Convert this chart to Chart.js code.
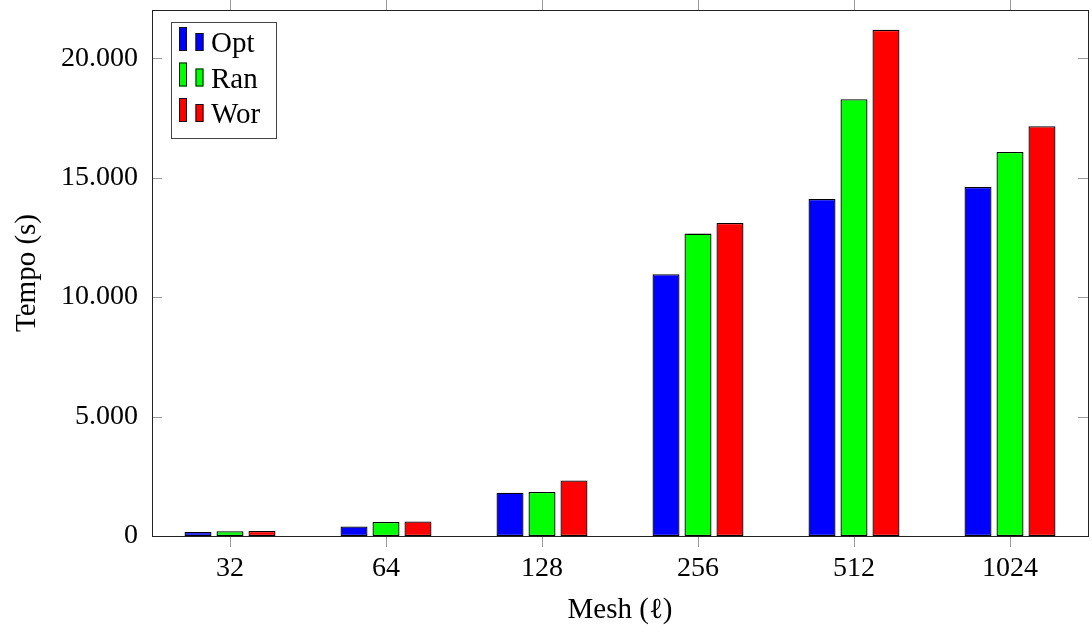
<!DOCTYPE html>
<html><head><meta charset="utf-8">
<script src="https://cdn.jsdelivr.net/npm/chart.js@4.4.1/dist/chart.umd.min.js"></script>
<style>html,body{margin:0;padding:0;background:#fff}#wrap{width:1092px;height:632px}</style>
</head><body><div id="wrap"><canvas id="c" width="1092" height="632"></canvas></div>
<script>
const categories = ['32', '64', '128', '256', '512', '1024'];
const optValues = [170, 400, 1810, 10955, 14110, 14612];
const ranValues = [200, 590, 1840, 12660, 18285, 16078];
const worValues = [210, 610, 2325, 13105, 21190, 17155];
const seriesNames = ['Opt', 'Ran', 'Wor'];
const seriesColors = ['#0000ff', '#00ff00', '#ff0000'];
const yTickValues = [0, 5000, 10000, 15000, 20000];
const yTitle = 'Tempo (s)';
const xTitle = 'Mesh (ℓ)';

const FONT = '"Liberation Serif", "DejaVu Serif", serif';
function fmt(v) { return String(v).replace(/\B(?=(\d{3})+(?!\d))/g, '.'); }

const framePlugin = {
  id: 'frame',
  afterDatasetsDraw(chart) {
    const { ctx, chartArea: a, scales: { x, y } } = chart;
    ctx.save();
    ctx.lineWidth = 1;
    ctx.strokeStyle = '#9a9a9a';
    ctx.beginPath();
    y.ticks.forEach(t => {
      const py = Math.round(y.getPixelForValue(t.value)) + 0.5;
      ctx.moveTo(a.left, py); ctx.lineTo(a.left + 10, py);
      ctx.moveTo(a.right, py); ctx.lineTo(a.right - 10, py);
    });
    categories.forEach((c, i) => {
      const px = Math.round(x.getPixelForValue(i)) + 0.5;
      ctx.moveTo(px, a.bottom); ctx.lineTo(px, a.bottom + 11);
      ctx.moveTo(px, a.top); ctx.lineTo(px, a.top - 11);
    });
    ctx.stroke();
    ctx.strokeStyle = '#222';
    ctx.strokeRect(Math.round(a.left) + 0.5, Math.round(a.top) + 0.5,
      Math.round(a.right - a.left), Math.round(a.bottom - a.top));
    ctx.restore();
  }
};

const legendPlugin = {
  id: 'texLegend',
  afterDraw(chart) {
    const { ctx, chartArea: a } = chart;
    const bx = a.left + 19, by = a.top + 12, bw = 105, bh = 116;
    ctx.save();
    ctx.fillStyle = '#fff';
    ctx.fillRect(bx, by, bw, bh);
    ctx.lineWidth = 1;
    ctx.strokeStyle = '#444';
    ctx.strokeRect(Math.round(bx) + 0.5, Math.round(by) + 0.5, bw, bh);
    chart.data.datasets.forEach((ds, i) => {
      const bottom = by + 29 + i * 35.5;
      ctx.fillStyle = ds.backgroundColor;
      ctx.strokeStyle = '#111';
      ctx.fillRect(bx + 8, bottom - 24, 8, 24);
      ctx.strokeRect(bx + 8.5, bottom - 23.5, 7, 23);
      ctx.fillRect(bx + 24.5, bottom - 18, 8, 18);
      ctx.strokeRect(bx + 25, bottom - 17.5, 7, 17);
      ctx.fillStyle = '#000';
      ctx.font = '29px ' + FONT;
      ctx.textBaseline = 'alphabetic';
      ctx.textAlign = 'left';
      ctx.fillText(ds.label, bx + 40, bottom + 1);
    });
    ctx.restore();
  }
};

const datasets = [optValues, ranValues, worValues].map((vals, i) => ({
  label: seriesNames[i],
  data: vals,
  backgroundColor: seriesColors[i],
  borderColor: '#000',
  borderWidth: 1.3,
  borderSkipped: false,
  categoryPercentage: 0.615,
  barPercentage: 0.844
}));

new Chart(document.getElementById('c'), {
  type: 'bar',
  data: { labels: categories, datasets },
  options: {
    responsive: false,
    animation: false,
    events: [],
    layout: { padding: { left: 0, right: 4, top: 10, bottom: 0 } },
    plugins: { legend: { display: false }, tooltip: { enabled: false } },
    scales: {
      x: {
        type: 'category',
        offset: true,
        grid: { display: false, drawTicks: false },
        border: { display: false },
        ticks: { font: { family: FONT, size: 28 }, color: '#000', padding: 16, maxRotation: 0 },
        title: { display: true, text: xTitle, color: '#000', font: { family: FONT, size: 29 }, padding: { top: 0, bottom: 4 } },
        afterFit(s) { s.height = 96; s.paddingLeft = 0; s.paddingRight = 0; }
      },
      y: {
        min: 0,
        max: 22020,
        grid: { display: false, drawTicks: false },
        border: { display: false },
        ticks: { font: { family: FONT, size: 28 }, color: '#000', padding: 14, stepSize: 5000, callback: v => fmt(v) },
        afterBuildTicks(s) { s.ticks = yTickValues.map(v => ({ value: v })); },
        title: { display: true, text: yTitle, color: '#000', font: { family: FONT, size: 29 }, padding: { top: 10, bottom: 0 } },
        afterFit(s) { s.width = 152; s.paddingTop = 0; s.paddingBottom = 0; }
      }
    }
  },
  plugins: [framePlugin, legendPlugin]
});
</script></body></html>
